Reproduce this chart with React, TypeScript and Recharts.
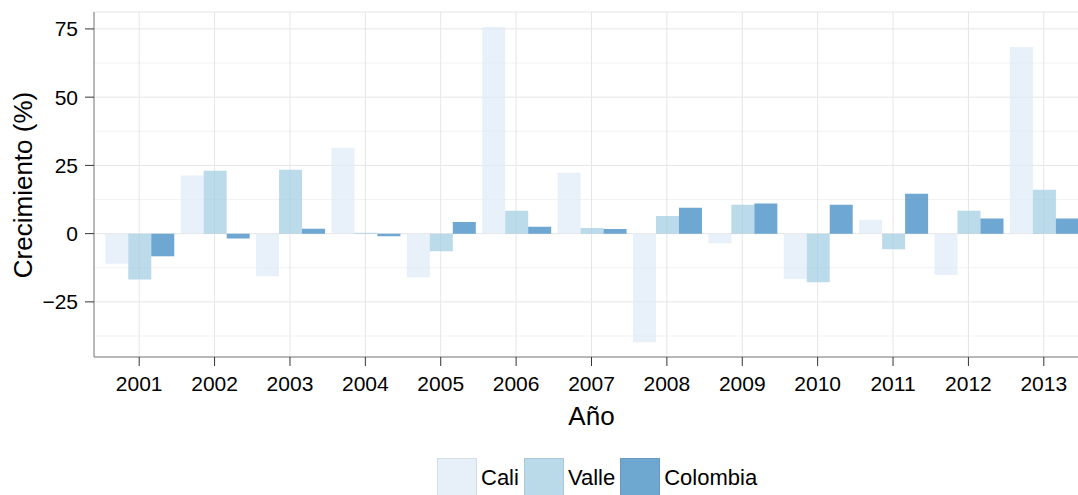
import { BarChart, Bar, XAxis, YAxis, CartesianGrid, Label } from "recharts";

const years = ["2001", "2002", "2003", "2004", "2005", "2006", "2007", "2008", "2009", "2010", "2011", "2012", "2013"];
const cali = [-11, 21.3, -15.6, 31.5, -16.0, 75.7, 22.3, -39.8, -3.5, -16.6, 5.1, -15.2, 68.4];
const valle = [-16.8, 23.0, 23.4, 0.3, -6.5, 8.4, 2.1, 6.5, 10.6, -17.8, -5.7, 8.4, 16.1];
const colombia = [-8.3, -1.8, 1.8, -1.0, 4.3, 2.5, 1.7, 9.5, 11.0, 10.6, 14.6, 5.5, 5.5];

const seriesNames = ["Cali", "Valle", "Colombia"];
const seriesKeys = ["cali", "valle", "colombia"];
const seriesColors = ["#deebf7", "#9ecae1", "#3182bd"];

const yTicks = [-25, 0, 25, 50, 75];
const yMinor = [-37.5, -12.5, 12.5, 37.5, 62.5];

const data = years.map((year, i) => ({
  year,
  cali: cali[i],
  valle: valle[i],
  colombia: colombia[i],
}));

const font = "'Liberation Sans', Arial, Helvetica, sans-serif";
const fmt = (v: number) => (v < 0 ? "\u2212" + Math.abs(v) : String(v));

export default function App() {
  return (
    <div
      style={{
        position: "absolute",
        left: 0,
        top: 0,
        width: 1078,
        height: 495,
        overflow: "hidden",
        background: "#fff",
        fontFamily: font,
      }}
    >
      <BarChart
        width={1089}
        height={495}
        data={data}
        margin={{ top: 12, right: 0, bottom: 0, left: 0 }}
        barCategoryGap="5%"
        barGap={0}
      >
        <CartesianGrid horizontalValues={yMinor} vertical={false} stroke="#f3f3f3" strokeWidth={1} />
        <CartesianGrid stroke="#e6e6e6" strokeWidth={1} />
        <XAxis
          dataKey="year"
          height={138}
          padding={{ left: 7.5, right: 7.5 }}
          tickSize={9}
          tickMargin={10}
          tick={{ fontSize: 21, fill: "#000", fontFamily: font }}
          tickLine={{ stroke: "#333" }}
          axisLine={{ stroke: "#7f7f7f" }}
        >
          <Label
            content={({ viewBox }: any) => (
              <text
                x={viewBox.x + viewBox.width / 2}
                y={425}
                textAnchor="middle"
                fontSize={26}
                fill="#000"
                fontFamily={font}
              >
                Año
              </text>
            )}
          />
        </XAxis>
        <XAxis
          xAxisId="top"
          dataKey="year"
          orientation="top"
          height={0}
          tick={false}
          tickLine={false}
          padding={{ left: 7.5, right: 7.5 }}
          axisLine={{ stroke: "#7f7f7f" }}
        />
        <YAxis
          type="number"
          width={94}
          domain={[-45.2, 81.2]}
          ticks={yTicks}
          allowDataOverflow
          tickFormatter={fmt}
          tickSize={9}
          tickMargin={7}
          tick={{ fontSize: 21, fill: "#000", fontFamily: font }}
          tickLine={{ stroke: "#333" }}
          axisLine={{ stroke: "#7f7f7f" }}
        >
          <Label
            content={() => (
              <text
                x={32}
                y={185}
                transform="rotate(-90 32 185)"
                textAnchor="middle"
                fontSize={26}
                fill="#000"
                fontFamily={font}
              >
                Crecimiento (%)
              </text>
            )}
          />
        </YAxis>
        {seriesKeys.map((k, i) => (
          <Bar
            key={k}
            dataKey={k}
            name={seriesNames[i]}
            fill={seriesColors[i]}
            fillOpacity={0.7}
            isAnimationActive={false}
          />
        ))}
      </BarChart>
      <div
        style={{
          position: "absolute",
          left: 437,
          top: 458,
          display: "flex",
          alignItems: "center",
          fontSize: 22,
          color: "#000",
        }}
      >
        {seriesNames.map((n, i) => (
          <div key={n} style={{ display: "flex", alignItems: "center", marginRight: 5 }}>
            <div
              style={{
                width: 40,
                height: 40,
                boxSizing: "border-box",
                border: "1px solid rgba(0,0,0,0.12)",
                background: seriesColors[i],
                opacity: 0.7,
              }}
            />
            <span style={{ marginLeft: 4 }}>{n}</span>
          </div>
        ))}
      </div>
    </div>
  );
}
